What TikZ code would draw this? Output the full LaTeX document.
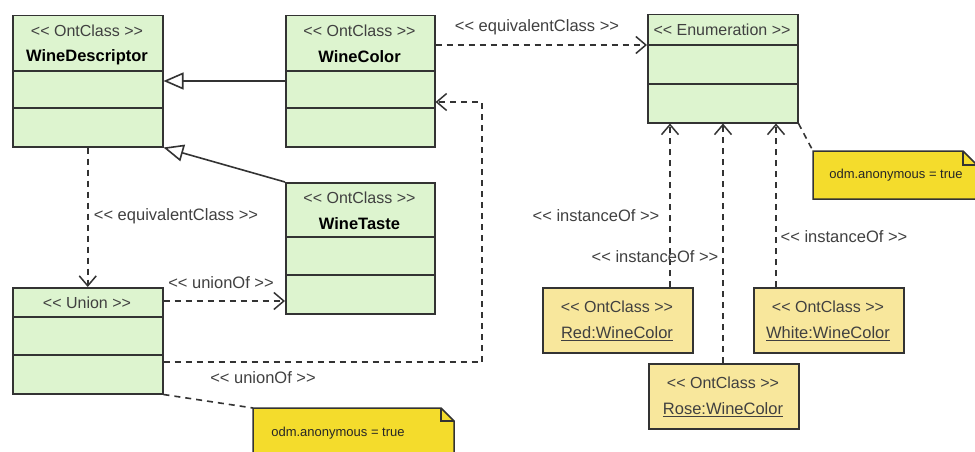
\documentclass[tikz,border=0pt]{standalone}
\usepackage{fontspec}
\setmainfont{Liberation Sans}
\usetikzlibrary{arrows.meta}

\definecolor{classfill}{HTML}{DDF4CF}
\definecolor{instfill}{HTML}{F8E79C}
\definecolor{notefill}{HTML}{F4DC2C}
\definecolor{edge}{HTML}{333333}
\definecolor{labeltext}{HTML}{404040}

% guillemet-free stereotype brackets
\newcommand{\sopen}{<{}<}
\newcommand{\sclose}{>{}>}

\tikzset{
  box/.style={draw=edge, line width=1.5pt, rectangle, inner sep=0pt, anchor=north west},
  classbox/.style={box, fill=classfill},
  instbox/.style={box, fill=instfill},
  divider/.style={draw=edge, line width=1.5pt},
  stereo/.style={text=labeltext, font=\fontsize{16}{18}\selectfont, inner sep=0pt},
  cname/.style={text=black, font=\fontsize{16.5}{18}\selectfont\bfseries, inner sep=0pt},
  iname/.style={text=labeltext, font=\fontsize{16.5}{18}\selectfont, inner sep=0pt},
  elabel/.style={text=labeltext, font=\fontsize{16.5}{18}\selectfont, inner sep=0pt},
  notetext/.style={text=black!85, font=\fontsize{13}{15}\selectfont, inner sep=0pt},
  dep/.style={draw=edge, line width=1.6pt, dash pattern=on 6pt off 5pt,
    -{Straight Barb[length=10pt,width=17pt,line width=1.5pt]}},
  gen/.style={draw=edge, line width=1.6pt,
    -{Triangle[open,length=20pt,width=17pt,fill=white,line width=1.6pt]}},
  anchorline/.style={draw=edge, line width=1.6pt, dash pattern=on 6pt off 5pt},
}

\begin{document}
\begin{tikzpicture}[x=1pt,y=-1pt]
\useasboundingbox[fill=white] (0,0) rectangle (975,452);

% ---- class boxes ----
\node[classbox, minimum width=150pt, minimum height=131pt] (wd) at (12,15) {};
\draw[divider] (wd.west |- 0,71) -- (wd.east |- 0,71) (wd.west |- 0,108) -- (wd.east |- 0,108);
\node[stereo] (wds) at (87,31) {\sopen{} OntClass \sclose};
\node[cname] (wdn) at (87,57) {WineDescriptor};

\node[classbox, minimum width=149pt, minimum height=131pt] (wc) at (285,15) {};
\draw[divider] (wc.west |- 0,71) -- (wc.east |- 0,71) (wc.west |- 0,108) -- (wc.east |- 0,108);
\node[stereo] (wcs) at (359.5,31) {\sopen{} OntClass \sclose};
\node[cname] (wcn) at (359.5,57) {WineColor};

\node[classbox, minimum width=149pt, minimum height=131pt] (wt) at (285,182) {};
\draw[divider] (wt.west |- 0,237) -- (wt.east |- 0,237) (wt.west |- 0,275) -- (wt.east |- 0,275);
\node[stereo] (wts) at (359.5,198) {\sopen{} OntClass \sclose};
\node[cname] (wtn) at (359.5,224) {WineTaste};

\node[classbox, minimum width=150pt, minimum height=106pt] (un) at (12,287) {};
\draw[divider] (un.west |- 0,317) -- (un.east |- 0,317) (un.west |- 0,355) -- (un.east |- 0,355);
\node[stereo] (uns) at (87,303) {\sopen{} Union \sclose};

\node[classbox, minimum width=150pt, minimum height=108pt] (en) at (647,14) {};
\draw[divider] (en.west |- 0,45) -- (en.east |- 0,45) (en.west |- 0,84) -- (en.east |- 0,84);
\node[stereo] (ens) at (722,30) {\sopen{} Enumeration \sclose};

% ---- instances ----
\node[instbox, minimum width=150pt, minimum height=65pt] (red) at (542,287) {};
\node[stereo] (reds) at (617,307) {\sopen{} OntClass \sclose};
\node[iname] (redn) at (617,334) {\underline{Red:WineColor}};

\node[instbox, minimum width=150pt, minimum height=65pt] (white) at (753,287) {};
\node[stereo] (whites) at (828,307) {\sopen{} OntClass \sclose};
\node[iname] (whiten) at (828,334) {\underline{White:WineColor}};

\node[instbox, minimum width=150pt, minimum height=65pt] (rose) at (648,363) {};
\node[stereo] (roses) at (723,383) {\sopen{} OntClass \sclose};
\node[iname] (rosen) at (723,410) {\underline{Rose:WineColor}};

% ---- notes with folded corner ----
\node[rectangle, inner sep=0pt, minimum width=201pt, minimum height=50pt, anchor=north west] (noteA) at (253,408) {};
\fill[notefill] (noteA.north west) -- (441,408) -- (454,421) -- (454,460) -- (253,460) -- cycle;
\draw[edge, line width=1.5pt] (253,460) -- (noteA.north west) -- (441,408) -- (454,421) -- (454,460);
\draw[edge, line width=1.2pt] (441,408) -- (441,421) -- (454,421);
\node[notetext] (noteAt) at (338,433) {odm.anonymous = true};

\node[rectangle, inner sep=0pt, minimum width=164pt, minimum height=48pt, anchor=north west] (noteB) at (813,151) {};
\fill[notefill] (noteB.north west) -- (963,151) -- (977,165) -- (977,199) -- (813,199) -- cycle;
\draw[edge, line width=1.5pt] (977,199) -- (813,199) -- (noteB.north west) -- (963,151) -- (977,165);
\draw[edge, line width=1.2pt] (963,151) -- (963,165) -- (977,165);
\node[notetext] (noteBt) at (896,175) {odm.anonymous = true};

% ---- generalizations ----
\draw[gen] (wc.west |- 0,81) -- (wd.east |- 0,81);
\draw[gen] (wt.north west) -- (wd.south east);

% ---- dependencies ----
\draw[dep] (wd.south) -- (un.north);
\node[elabel] (lEq1) at (176,216) {\sopen{} equivalentClass \sclose};

\draw[dep] (un.east |- 0,301) -- (wt.west |- 0,301);
\node[elabel] (lU1) at (221,283) {\sopen{} unionOf \sclose};

\coordinate (bendA) at (482,362);
\coordinate (bendB) at (482,102);
\draw[dep] (un.east |- bendA) -- (bendA) -- (bendB) -- (wc.east |- bendB);
\node[elabel] (lU2) at (263,378) {\sopen{} unionOf \sclose};

\draw[dep] (wc.east |- 0,45) -- (en.west |- 0,45);
\node[elabel] (lEq2) at (537,27) {\sopen{} equivalentClass \sclose};

\draw[dep] (red.north -| 670,0) -- (en.south -| 670,0);
\node[elabel] (lI1) at (596,216) {\sopen{} instanceOf \sclose};
\draw[dep] (rose.north -| 723,0) -- (en.south -| 723,0);
\node[elabel] (lI2) at (655,257) {\sopen{} instanceOf \sclose};
\draw[dep] (white.north -| 776,0) -- (en.south -| 776,0);
\node[elabel] (lI3) at (844,237) {\sopen{} instanceOf \sclose};

% ---- note anchors ----
\draw[anchorline] (un.south east) -- (noteA.north west);
\draw[anchorline] (en.south east) -- (noteB.north west);
\end{tikzpicture}
\end{document}
